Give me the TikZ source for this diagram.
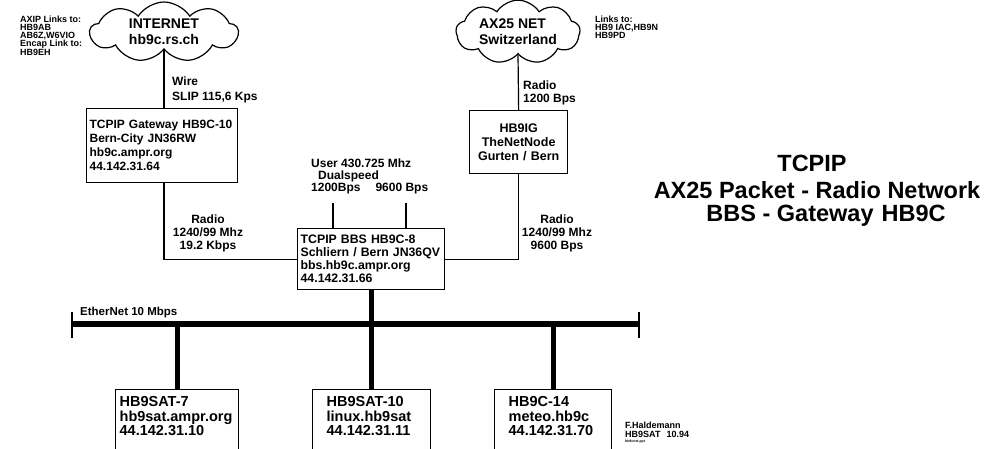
\documentclass[tikz,border=0pt]{standalone}
\usepackage{fontspec}
\setmainfont{Liberation Sans}
\usetikzlibrary{shapes.symbols,positioning}

\begin{document}
\begin{tikzpicture}[x=1pt,y=-1pt,
box/.style={draw,line width=1.3pt,anchor=north west,align=left,inner ysep=0pt,font=\fontsize{12}{14}\selectfont\bfseries},
host/.style={draw,line width=1.3pt,anchor=north west,align=left,inner ysep=7pt,text depth=60pt,font=\fontsize{14.5}{14.5}\selectfont\bfseries},
netcloud/.style={cloud,draw,line width=1.2pt,cloud puffs=9,cloud puff arc=115,aspect=2.4,minimum width=148pt,minimum height=60pt,inner sep=0pt,align=left,font=\fontsize{14}{16}\selectfont\bfseries},
lbl/.style={inner sep=0pt,align=center,font=\fontsize{12}{13}\selectfont\bfseries},
note/.style={inner sep=0pt,align=left,anchor=west,font=\fontsize{9}{8}\selectfont\bfseries},
heading/.style={inner sep=0pt,font=\fontsize{23.5}{28}\selectfont\bfseries},
conn/.style={line width=1.2pt},
bus/.style={line width=6pt},
busend/.style={line width=1.5pt},
drop/.style={line width=5pt}]
\useasboundingbox (0,0) rectangle (999,448);
% networks on top
\node[netcloud] (intnet) at (164,32) {INTERNET\\hb9c.rs.ch};
\node[netcloud,minimum width=124pt] (axnet) at (518,32) {AX25 NET\\Switzerland};
\node[note] (axiplinks) at (20,36) {AXIP Links to:\\HB9AB\\AB6Z,W6VIO\\Encap Link to:\\HB9EH};
\node[note] (axlinks) at (595,27) {Links to:\\HB9 IAC,HB9N\\HB9PD};
% gateway, node and bbs
\node[box,minimum width=151pt,minimum height=74pt,text width=145pt,inner xsep=3pt] (gw) at (86,108) {TCPIP Gateway HB9C-10\\Bern-City JN36RW\\hb9c.ampr.org\\44.142.31.64};
\node[box,align=center,minimum width=98pt,minimum height=63pt,text width=86pt,inner xsep=6pt,font=\fontsize{12.5}{14}\selectfont\bfseries] (hb9ig) at (469,110) {HB9IG\\TheNetNode\\Gurten / Bern};
\node[box,minimum width=147pt,minimum height=61pt,text width=141pt,inner xsep=3pt,font=\fontsize{12.3}{13}\selectfont\bfseries] (bbs) at (297,228) {TCPIP BBS HB9C-8\\Schliern / Bern JN36QV\\bbs.hb9c.ampr.org\\44.142.31.66};
\node[lbl,align=left,anchor=west,font=\fontsize{12}{14.5}\selectfont\bfseries] (wirelbl) at (172,90) {Wire\\SLIP 115,6 Kps};
\node[lbl,align=left,anchor=west] (axradio) at (523,93) {Radio\\1200 Bps};
\node[lbl] (gwradio) at (208,233) {Radio\\1240/99 Mhz\\19.2 Kbps};
\node[lbl] (igradio) at (557,233) {Radio\\1240/99 Mhz\\9600 Bps};
\node[lbl,anchor=west] (userlbl) at (311,163) {User 430.725 Mhz};
\node[lbl,anchor=west] (duallbl) at (318,176) {Dualspeed};
\node[lbl,anchor=west] (ratelbl) at (311,189) {1200Bps\hspace{15pt}9600 Bps};
\coordinate (ant1) at (333,203);
\coordinate (ant2) at (406,203);
\draw[conn] (intnet.south) -- (intnet.south |- gw.north);
\draw[conn] (gw.south -| intnet.south) |- (bbs.west);
\draw[conn] (axnet.south) -- (hb9ig.north);
\draw[conn] (bbs.east) -| (hb9ig.south);
\draw[conn] (ant1) -- (ant1 |- bbs.north);
\draw[conn] (ant2) -- (ant2 |- bbs.north);
% ethernet
\coordinate (ethl) at (72,324);
\coordinate (ethr) at (639,324);
\node[lbl,anchor=west,font=\fontsize{11.5}{12}\selectfont\bfseries] (ethlbl) at (80,313) {EtherNet 10 Mbps};
\node[host,text width=115pt,inner xsep=4pt] (sat7) at (115,389) {HB9SAT-7\\hb9sat.ampr.org\\44.142.31.10};
\node[host,text width=90pt,inner xsep=14pt] (sat10) at (312,389) {HB9SAT-10\\linux.hb9sat\\44.142.31.11};
\node[host,text width=89pt,inner xsep=14pt] (c14) at (494,389) {HB9C-14\\meteo.hb9c\\44.142.31.70};
\draw[bus] (ethl) -- (ethr);
\draw[busend] ([yshift=12pt]ethl) -- ([yshift=-14pt]ethl);
\draw[busend] ([yshift=12pt]ethr) -- ([yshift=-14pt]ethr);
\draw[drop] (bbs.south) -- (bbs.south |- sat10.north);
\draw[drop] (sat7.north |- ethl) -- (sat7.north);
\draw[drop] (c14.north |- ethl) -- (c14.north);
% title and signature
\node[heading] (title1) at (812,163) {TCPIP};
\node[heading] (title2) at (817,190) {AX25 Packet - Radio Network};
\node[heading] (title3) at (826,216) {BBS - Gateway\hspace{8pt}HB9C};
\node[note] (author) at (625,425) {F.Haldemann};
\node[note] (callsign) at (625,434) {HB9SAT\hspace{6pt}10.94};
\node[note,font=\fontsize{3.5}{4}\selectfont\bfseries] (filename) at (625,442) {hb9cnet.ppt};
\end{tikzpicture}
\end{document}
